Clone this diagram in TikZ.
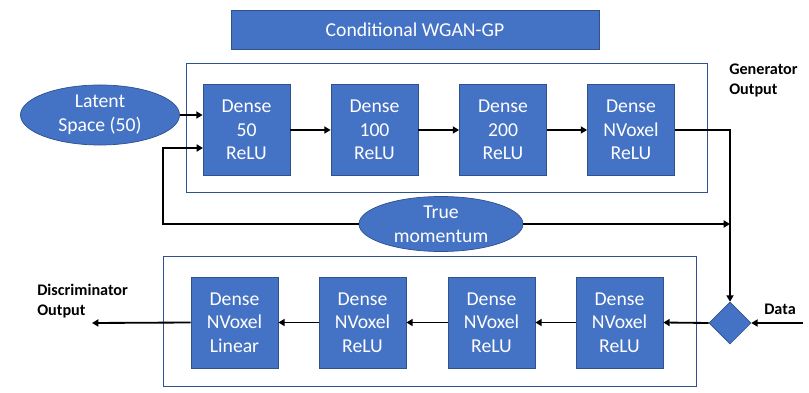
\documentclass[tikz,border=0pt]{standalone}
\usepackage{xcolor}
\usepackage{fontspec}
\setmainfont{Carlito}
\usepackage{tikz}
\usetikzlibrary{shapes,arrows.meta}

\definecolor{boxblue}{HTML}{4472C4}
\definecolor{edgeblue}{HTML}{2F528F}

\tikzset{
  dense/.style={rectangle,draw=edgeblue,fill=boxblue,text=white,line width=0.5pt,
    minimum width=2.175cm,minimum height=2.275cm,inner sep=0pt,align=center,
    font=\fontsize{14}{16.8}\selectfont},
  blob/.style={ellipse,draw=edgeblue,fill=boxblue,text=white,line width=0.5pt,
    inner sep=0pt,align=center,font=\fontsize{14}{16.8}\selectfont},
  panel/.style={draw=edgeblue,line width=0.6pt},
  flow/.style={-{Triangle[length=4.5pt,width=5pt]},line width=1.3pt},
  outlabel/.style={font=\bfseries\fontsize{11.5}{14}\selectfont,align=left,inner sep=0pt}
}

\begin{document}
\begin{tikzpicture}[x=0.025cm,y=-0.025cm]

  \useasboundingbox (0,0) rectangle (809,393);

  % title and the two panels
  \node[rectangle,draw=edgeblue,fill=boxblue,text=white,minimum width=9.2cm,minimum height=0.975cm,
    font=\fontsize{14}{16.8}\selectfont] (head) at (415,29.5) {Conditional WGAN-GP};
  \draw[panel] (186,63) rectangle (707,192);
  \draw[panel] (163,256) rectangle (696,386);

  % generator
  \node[blob,minimum width=3.975cm,minimum height=1.5cm] (lat) at (100,115) {Latent\\Space (50)};
  \node[dense] (g1) at (246.5,130) {Dense\\50\\ReLU};
  \node[dense] (g2) at (374.5,130) {Dense\\100\\ReLU};
  \node[dense] (g3) at (503,130) {Dense\\200\\ReLU};
  \node[dense] (g4) at (631,130) {Dense\\NVoxel\\ReLU};
  \node[outlabel,anchor=north west] (genlab) at (729,64) {Generator\\Output};

  \node[blob,minimum width=4.1cm,minimum height=1.375cm] (mom) at (441,224) {True\\momentum};

  % discriminator
  \node[diamond,draw=edgeblue,fill=boxblue,minimum width=1.05cm,minimum height=1.05cm,inner sep=0pt] (mix) at (730,323) {};
  \node[dense] (d1) at (234.5,322.5) {Dense\\NVoxel\\Linear};
  \node[dense] (d2) at (362.5,322.5) {Dense\\NVoxel\\ReLU};
  \node[dense] (d3) at (491.5,322.5) {Dense\\NVoxel\\ReLU};
  \node[dense] (d4) at (619.5,322.5) {Dense\\NVoxel\\ReLU};
  \node[outlabel,anchor=north west] (dislab) at (37,284) {Discriminator\\Output};
  \node[outlabel] (datalab) at (780,309) {Data};

  \coordinate (g1in) at (203,148);
  \coordinate (feed) at (163,224);
  \coordinate (dout) at (92,323);
  \coordinate (din) at (803,323);

  \draw[flow] (lat.east) -- (lat.east -| g1.west);
  \draw[flow] (g1) -- (g2);
  \draw[flow] (g2) -- (g3);
  \draw[flow] (g3) -- (g4);
  \draw[flow] (g4.east) -| (mix.north);
  \draw[flow] (mom.east) -- (mom.east -| mix.north);
  \draw[flow] (mom.west) -- (feed) |- (g1in);

  \draw[flow] (din) -- (mix.east);
  \draw[flow] (mix.west) -- (d4.east);
  \draw[flow] (d4) -- (d3);
  \draw[flow] (d3) -- (d2);
  \draw[flow] (d2) -- (d1);
  \draw[flow] (d1.west) -- (dout);

\end{tikzpicture}
\end{document}
